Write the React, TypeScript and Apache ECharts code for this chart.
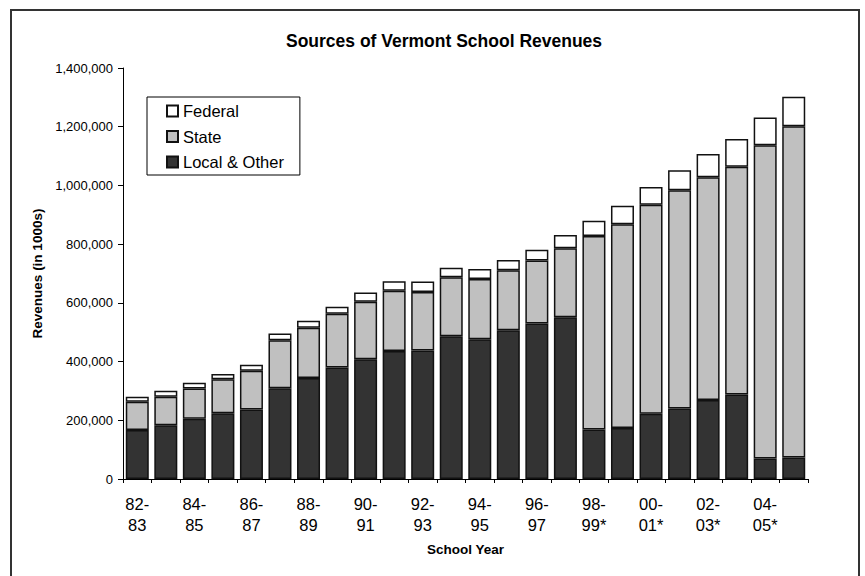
import React, { useEffect, useRef } from "react";
import * as echarts from "echarts";

const years = [
  "82-83", "83-84", "84-85", "85-86", "86-87", "87-88", "88-89", "89-90",
  "90-91", "91-92", "92-93", "93-94", "94-95", "95-96", "96-97", "97-98",
  "98-99*", "99-00*", "00-01*", "01-02*", "02-03*", "03-04*", "04-05*", "05-06*",
];

const localOther = [
  167000, 183000, 205000, 224000, 237000, 309000, 344000, 380000,
  408000, 436000, 438000, 486000, 476000, 507000, 530000, 551000,
  169000, 174000, 222000, 240000, 269000, 288000, 70000, 73000,
];

const stateAid = [
  96000, 97000, 103000, 116000, 132000, 164000, 171000, 183000,
  196000, 205000, 199000, 201000, 205000, 204000, 214000, 235000,
  659000, 694000, 712000, 744000, 759000, 776000, 1067000, 1129000,
];

const federalAid = [
  17000, 21000, 20000, 18000, 20000, 23000, 24000, 24000,
  31000, 33000, 36000, 33000, 34000, 35000, 37000, 45000,
  52000, 63000, 61000, 68000, 79000, 94000, 94000, 100000,
];

const yTicks = { min: 0, max: 1400000, interval: 200000 };

const FONT = "'Liberation Sans', Arial, Helvetica, sans-serif";

export default function App() {
  const ref = useRef<HTMLDivElement>(null);

  useEffect(() => {
    document.body.style.margin = "0";
    if (!ref.current) return;
    const chart = echarts.init(ref.current, undefined, { renderer: "svg" });
    const border = { borderColor: "#111111", borderWidth: 1.5 };
    chart.setOption({
      animation: false,
      backgroundColor: "#ffffff",
      title: {
        text: "Sources of Vermont School Revenues",
        left: 286,
        top: 32,
        padding: 0,
        textStyle: { fontFamily: FONT, fontSize: 17.5, fontWeight: "bold", color: "#000" },
      },
      legend: {
        data: ["Federal", "State", "Local & Other"],
        orient: "vertical",
        left: 147,
        top: 97,
        padding: [5, 16, 4, 19],
        itemWidth: 11,
        itemHeight: 11,
        itemGap: 7.5,
        icon: "rect",
        borderColor: "#000",
        borderWidth: 1,
        backgroundColor: "#fff",
        textStyle: { fontFamily: FONT, fontSize: 16.5, color: "#000", lineHeight: 18 },
      },
      grid: { left: 123, top: 68, width: 685, height: 411, containLabel: false },
      xAxis: {
        type: "category",
        data: years,
        name: "School Year",
        nameLocation: "middle",
        nameGap: 63,
        nameTextStyle: { fontFamily: FONT, fontSize: 13.5, fontWeight: "bold", color: "#000" },
        axisLine: { lineStyle: { color: "#000", width: 1 } },
        axisTick: { show: true, interval: 0, length: 4, lineStyle: { color: "#000" } },
        axisLabel: {
          interval: 1,
          margin: 14,
          fontFamily: FONT,
          fontSize: 16.5,
          lineHeight: 21.5,
          color: "#000",
          formatter: (v: string) => v.replace("-", "-\n"),
        },
      },
      yAxis: {
        type: "value",
        min: yTicks.min,
        max: yTicks.max,
        interval: yTicks.interval,
        name: "Revenues (in 1000s)",
        nameLocation: "middle",
        nameGap: 78,
        nameTextStyle: { fontFamily: FONT, fontSize: 13.5, fontWeight: "bold", color: "#000" },
        axisLine: { show: true, lineStyle: { color: "#000", width: 1 } },
        axisTick: { show: true, length: 5, lineStyle: { color: "#000" } },
        splitLine: { show: false },
        axisLabel: {
          margin: 10,
          fontFamily: FONT,
          fontSize: 13,
          color: "#000",
          formatter: (v: number) => v.toLocaleString("en-US"),
        },
      },
      series: [
        {
          name: "Local & Other",
          type: "bar",
          stack: "rev",
          barWidth: 23,
          data: localOther,
          itemStyle: { color: "#333333", ...border },
        },
        {
          name: "State",
          type: "bar",
          stack: "rev",
          barWidth: 23,
          data: stateAid,
          itemStyle: { color: "#c0c0c0", ...border },
        },
        {
          name: "Federal",
          type: "bar",
          stack: "rev",
          barWidth: 23,
          data: federalAid,
          itemStyle: { color: "#ffffff", ...border },
        },
      ],
      graphic: [
        {
          type: "rect",
          shape: { x: 11, y: 10, width: 848, height: 620 },
          style: { fill: "none", stroke: "#333", lineWidth: 2 },
          silent: true,
          z: 100,
        },
      ],
    });
    return () => chart.dispose();
  }, []);

  return <div ref={ref} style={{ width: 865, height: 576 }} />;
}
